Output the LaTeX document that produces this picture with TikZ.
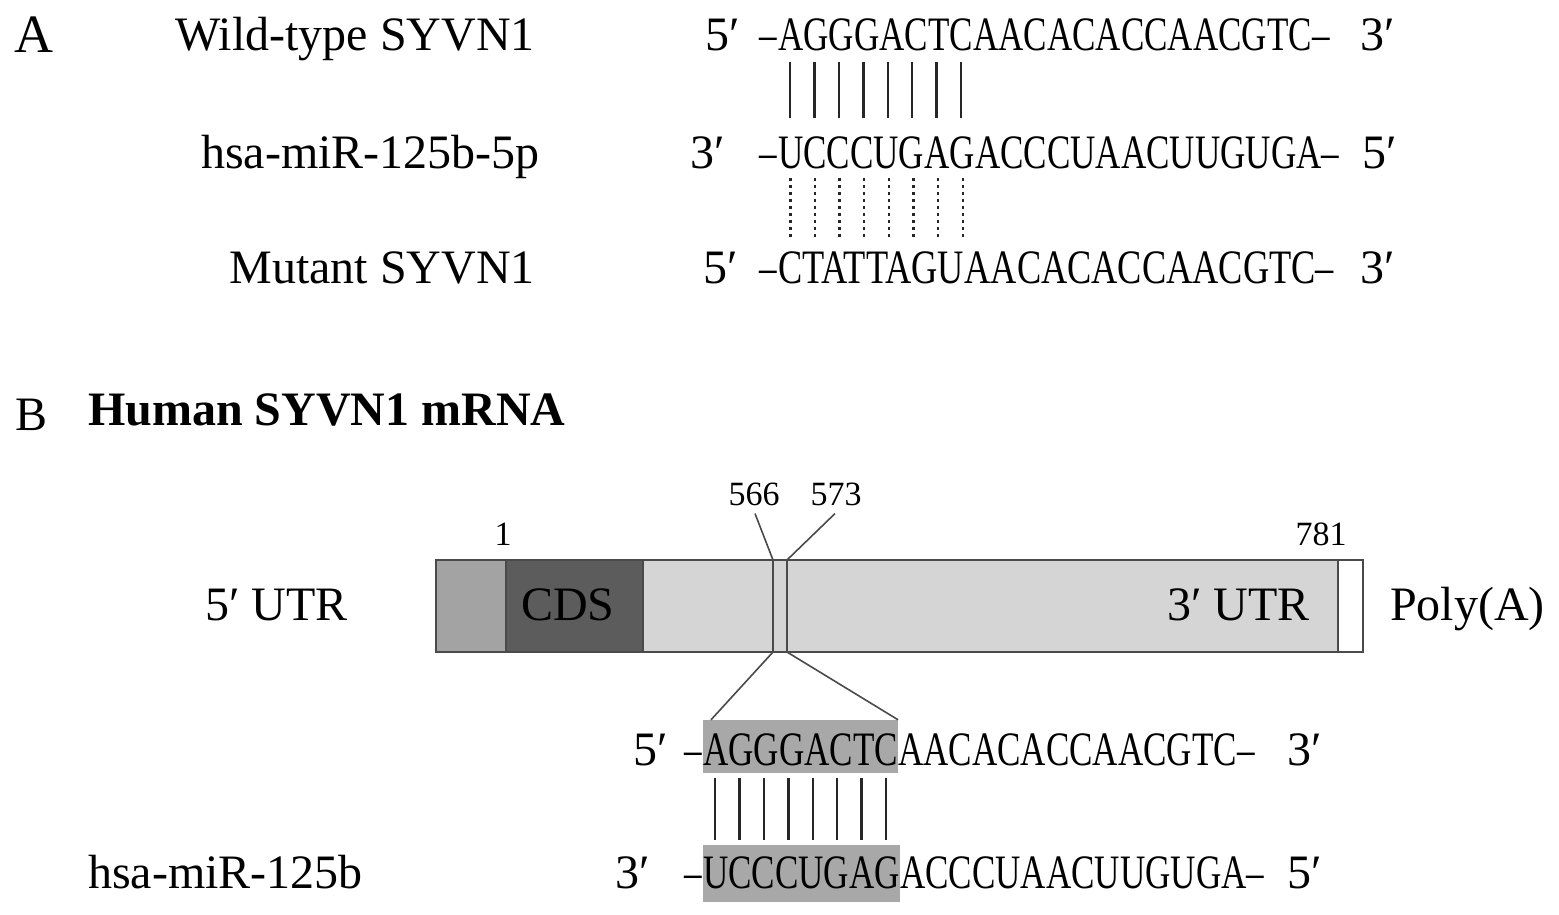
\documentclass[tikz,border=0pt]{standalone}
\usepackage{fontspec}
\setmainfont{Liberation Serif}
\newfontfamily\seqfont[FakeStretch=0.73]{Liberation Serif}
\newfontfamily\seqfontw[FakeStretch=0.757]{Liberation Serif}
\usetikzlibrary{calc}
\definecolor{midgray}{HTML}{A3A3A3}
\definecolor{dkgray}{HTML}{5C5C5C}
\definecolor{ltgray}{HTML}{D5D5D5}
\definecolor{hlgray}{HTML}{A8A8A8}
\definecolor{edge}{HTML}{4A4A4A}
\tikzset{
  lbl/.style={font=\fontsize{48}{56}\selectfont, inner sep=0pt, anchor=base east},
  lblw/.style={font=\fontsize{48}{56}\selectfont, inner sep=0pt, anchor=base west},
  seqt/.style={font=\seqfont\fontsize{48}{56}\selectfont, inner sep=0pt, anchor=base west},
  seqw/.style={font=\seqfontw\fontsize{48}{56}\selectfont, inner sep=0pt, anchor=base west},
  num/.style={font=\fontsize{34}{40}\selectfont, inner sep=0pt, anchor=base},
  pairline/.style={line width=2.4pt, black!85},
  dotline/.style={line width=2.4pt, black!85, dash pattern=on 2.6pt off 4.4pt},
  seg/.style={draw=edge, line width=1.8pt, inner sep=0pt, outer sep=0pt, minimum height=92pt},
  zoomline/.style={draw=edge, line width=1.6pt},
}
\begin{document}
\begin{tikzpicture}[x=1pt,y=-1pt]
\useasboundingbox (0,0) rectangle (1559,914);
% ---------------- Panel A ----------------
\node[lblw, font=\fontsize{54}{60}\selectfont] (labA) at (14,52) {A};
\node[lbl] (wtname) at (535,50) {Wild-type SYVN1};
\node[lbl] (mirname) at (540,168) {hsa-miR-125b-5p};
\node[lbl] (mutname) at (535,283) {Mutant SYVN1};
% row 1
\node[seqt] (w1s) at (778,50) {AGGGACTC};
\node[seqt] (w1r) at (w1s.base east) {AACACACCAACGTC–};
\node[seqt, anchor=base east] (w1d) at ([xshift=-1pt]w1s.base west) {–};
\node[lbl] (w1a) at (740,50) {5′};
\node[lblw] (w1b) at (1360,50) {3′};
% row 2
\node[seqt] (m1s) at (778,168) {UCCCUGAG};
\node[seqt] (m1r) at (m1s.base east) {ACCCUAACUUGUGA–};
\node[seqt, anchor=base east] (m1d) at ([xshift=-1pt]m1s.base west) {–};
\node[lbl] (m1a) at (725,168) {3′};
\node[lblw] (m1b) at (1362,168) {5′};
% row 3
\node[seqw] (u1s) at (778,283) {CTATTAGU};
\node[seqw] (u1r) at (u1s.base east) {AACACACCAACGTC–};
\node[seqt, anchor=base east] (u1d) at ([xshift=-1pt]u1s.base west) {–};
\node[lbl] (u1a) at (738,283) {5′};
\node[lblw] (u1b) at (1360,283) {3′};
% pairing lines
\foreach \i in {1,...,8}{
  \coordinate (pa\i) at ($(w1s.base west)!{(\i-0.5)/8}!(w1s.base east)$);
  \draw[pairline] (pa\i |- 0,62) -- (pa\i |- 0,118);
  \coordinate (pb\i) at ($(m1s.base west)!{(\i-0.5)/8}!(m1s.base east)$);
  \draw[dotline] (pb\i |- 0,178) -- (pb\i |- 0,238);
}
% ---------------- Panel B ----------------
\node[lblw] (labB) at (15,430) {B};
\node[lblw, font=\bfseries\fontsize{48}{56}\selectfont] (title) at (88,425) {Human SYVN1 mRNA};
% mRNA bar
\node[seg, fill=midgray, minimum width=70pt, anchor=north west] (utr5) at (436,560) {};
\node[seg, fill=dkgray, minimum width=137pt, anchor=north west] (cds) at (utr5.north east) {};
\node[seg, fill=ltgray, minimum width=695pt, anchor=north west] (utr3) at (cds.north east) {};
\node[seg, fill=white, minimum width=25pt, anchor=north west] (polya) at (utr3.north east) {};
\node[lbl, anchor=base] (cdst) at (568,620) {CDS};
\node[lbl] (utr3t) at (1310,620) {3′ UTR};
\node[lblw] (utr5lab) at (205,620) {5′ UTR};
\node[lblw] (polylab) at (1390,620) {Poly(A)};
\node[num] (n1) at (503,545) {1};
\node[num] (n781) at (1321,545) {781};
\node[num] (n566) at (754,505) {566};
\node[num] (n573) at (836,505) {573};
% site strip
\coordinate (sat) at (773,560);
\coordinate (sab) at (773,652);
\coordinate (sbt) at (787,560);
\coordinate (sbb) at (787,652);
\draw[zoomline] (sat) -- (sab);
\draw[zoomline] (sbt) -- (sbb);
\draw[zoomline] ([xshift=1pt,yshift=-8pt]n566.south) -- (sat);
\draw[zoomline] ([xshift=-1pt,yshift=-8pt]n573.south) -- (sbt);
% bottom sequences
\node[seqt, fill=hlgray, text height=45pt, text depth=8pt] (w2s) at (703,765) {AGGGACTC};
\node[seqt] (w2r) at (w2s.base east) {AACACACCAACGTC–};
\node[seqt, anchor=base east] (w2d) at ([xshift=-1pt]w2s.base west) {–};
\node[lbl] (w2a) at (668,765) {5′};
\node[lblw] (w2b) at (1287,765) {3′};
\node[seqt, fill=hlgray, text height=43pt, text depth=14pt] (m2s) at (703,888) {UCCCUGAG};
\node[seqt] (m2r) at (m2s.base east) {ACCCUAACUUGUGA–};
\node[seqt, anchor=base east] (m2d) at ([xshift=-1pt]m2s.base west) {–};
\node[lbl] (m2a) at (650,888) {3′};
\node[lblw] (m2b) at (1287,888) {5′};
\node[lblw] (mir2) at (88,888) {hsa-miR-125b};
\draw[zoomline] (sab) -- ([xshift=8pt]w2s.north west);
\draw[zoomline] (sbb) -- (w2s.north east);
\foreach \i in {1,...,8}{
  \coordinate (pc\i) at ($(w2s.base west)!{(\i-0.5)/8}!(w2s.base east)$);
  \draw[pairline] (pc\i |- 0,778) -- (pc\i |- 0,840);
}
\end{tikzpicture}
\end{document}
